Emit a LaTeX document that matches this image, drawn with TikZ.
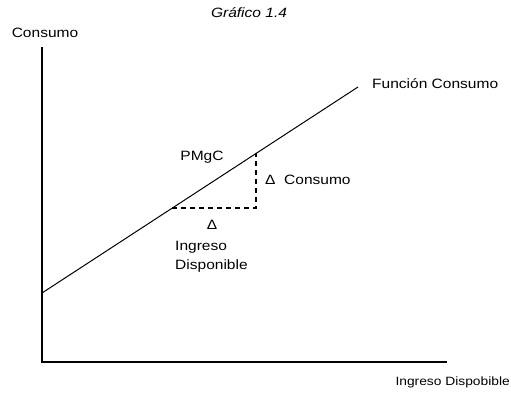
\documentclass[tikz,border=0pt]{standalone}
\usepackage{fontspec}
\setmainfont{Liberation Sans}[FakeStretch=1.15]
\usetikzlibrary{positioning}

\tikzset{
  axis/.style={line width=2.4pt},
  func/.style={line width=1pt},
  delta/.style={line width=1.4pt, dash pattern=on 5pt off 4pt},
  lbl/.style={inner sep=0pt, font=\fontsize{13.5}{15}\selectfont}
}

\begin{document}
\begin{tikzpicture}[x=1pt,y=-1pt]
  \useasboundingbox (0,0) rectangle (511,395);
  % axes
  \coordinate (O) at (42,362);
  \coordinate (ytop) at (42,47);
  \coordinate (xend) at (447,362);
  \draw[axis] (ytop) -- (O) -- (xend);
  % consumption function
  \coordinate (f0) at (42,293);
  \coordinate (f1) at (358,87);
  \draw[func] (f0) -- (f1);
  % triangle
  \coordinate (ta) at (172,208);
  \coordinate (tb) at (256,208);
  \coordinate (tc) at (256,153.5);
  \draw[delta] (ta) -- (tb) -- (tc);
  % labels
  \node[lbl, font=\fontsize{13.5}{15}\selectfont\itshape] (title) at (249,13) {Gráfico 1.4};
  \node[lbl] (ylab) at (45,33) {Consumo};
  \node[lbl, anchor=west] (fname) at (372,84) {Función Consumo};
  \node[lbl] (pmgc) at (202,157) {PMgC};
  \node[lbl, anchor=west] (dc) at (265,180) {Δ\ \ Consumo};
  \node[lbl] (di) at (212,225) {Δ};
  \node[lbl, anchor=west] (ing) at (175,247) {Ingreso};
  \node[lbl, below=6pt of ing.south west, anchor=north west] (disp) {Disponible};
  \node[lbl, anchor=east, font=\fontsize{12}{14}\selectfont] (xlab) at (510,382) {Ingreso Dispobible};
\end{tikzpicture}
\end{document}
